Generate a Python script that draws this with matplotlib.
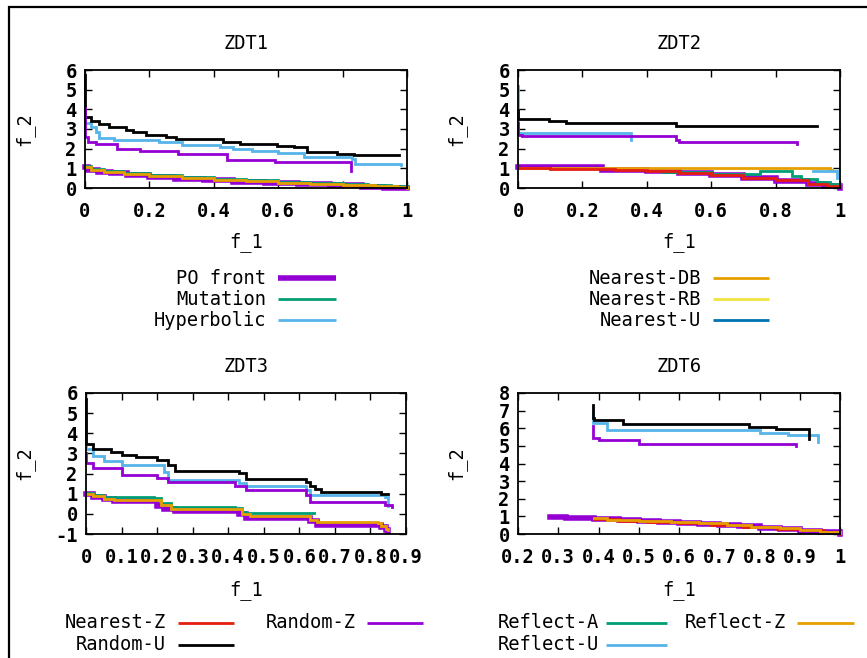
import matplotlib
matplotlib.use("Agg")
import matplotlib.pyplot as plt
from matplotlib.lines import Line2D
from matplotlib.patches import Rectangle

# ---------------- data ----------------
# ZDT1
ZDT1_PO_F1 = [0, 0.01, 0.04, 0.08, 0.13, 0.2, 0.28, 0.37, 0.46, 0.56, 0.66, 0.76, 0.86, 0.93, 1.0]
ZDT1_PO_F2 = [1.05, 0.92, 0.82, 0.74, 0.66, 0.57, 0.48, 0.40, 0.33, 0.26, 0.19, 0.13, 0.07, 0.02, -0.02]
ZDT1_MUT_F1 = [0, 0.02, 0.06, 0.12, 0.2, 0.3, 0.4, 0.5, 0.6, 0.7, 0.8, 0.88, 0.95, 1.0]
ZDT1_MUT_F2 = [1.1, 0.95, 0.87, 0.78, 0.68, 0.58, 0.48, 0.40, 0.32, 0.25, 0.2, 0.15, 0.12, 0.1]
ZDT1_REFZ_F1 = [0, 0.02, 0.06, 0.12, 0.2, 0.3, 0.4, 0.5, 0.6, 0.7, 0.8, 0.9, 0.97, 1.0]
ZDT1_REFZ_F2 = [1.05, 0.9, 0.82, 0.72, 0.62, 0.52, 0.43, 0.35, 0.27, 0.2, 0.13, 0.08, 0.05, 0.02]
ZDT1_RANDU_F1 = [0, 0, 0.019, 0.045, 0.076, 0.128, 0.149, 0.19, 0.253, 0.284, 0.43, 0.482, 0.596, 0.648, 0.69, 0.784, 0.835, 0.976]
ZDT1_RANDU_F2 = [5.75, 3.62, 3.40, 3.25, 3.08, 2.94, 2.84, 2.72, 2.60, 2.47, 2.35, 2.23, 2.14, 2.06, 1.84, 1.75, 1.67, 1.67]
ZDT1_HYP_F1 = [0, 0, 0.02, 0.035, 0.045, 0.09, 0.23, 0.3, 0.42, 0.46, 0.52, 0.6, 0.68, 0.83, 0.84, 0.98]
ZDT1_HYP_F2 = [4.0, 3.28, 3.1, 2.85, 2.52, 2.45, 2.35, 2.2, 2.1, 2.0, 1.9, 1.8, 1.58, 1.45, 1.22, 1.15]
ZDT1_RANDZ_F1 = [0, 0, 0.01, 0.035, 0.1, 0.17, 0.29, 0.44, 0.59, 0.825]
ZDT1_RANDZ_F2 = [4.05, 2.6, 2.35, 2.25, 2.0, 1.89, 1.72, 1.41, 1.30, 0.87]

# ZDT2
ZDT2_PO_F1 = [0, 0.26, 0.3, 0.4, 0.5, 0.6, 0.7, 0.8, 0.9, 0.95, 1.0]
ZDT2_PO_F2 = [1.07, 0.93, 0.91, 0.84, 0.75, 0.64, 0.51, 0.36, 0.19, 0.1, 0.0]
ZDT2_MUT_F1 = [0.45, 0.6, 0.75, 0.85, 0.88, 0.93, 0.97, 1.0]
ZDT2_MUT_F2 = [0.82, 0.7, 0.87, 0.6, 0.45, 0.3, 0.18, 0.1]
ZDT2_NDB_F1 = [0, 0.97, 0.975]
ZDT2_NDB_F2 = [1.02, 0.9, 0.9]
ZDT2_NZ_F1 = [0, 0.1, 0.2, 0.3, 0.4, 0.5, 0.6, 0.7, 0.8, 0.9, 0.96, 1.0]
ZDT2_NZ_F2 = [1.0, 0.99, 0.96, 0.91, 0.85, 0.76, 0.66, 0.53, 0.4, 0.22, 0.1, 0.03]
ZDT2_REFU_F1 = [0.915, 0.99]
ZDT2_REFU_F2 = [0.86, 0.51]
ZDT2_RANDU_F1 = [0, 0, 0.096, 0.148, 0.49, 0.93]
ZDT2_RANDU_F2 = [3.98, 3.52, 3.43, 3.33, 3.17, 3.17]
ZDT2_HYP_F1 = [0, 0, 0.35]
ZDT2_HYP_F2 = [5.18, 2.78, 2.45]
ZDT2_RANDZ_F1 = [0, 0, 0.013, 0.49, 0.50, 0.866]
ZDT2_RANDZ_F2 = [3.3, 2.71, 2.66, 2.44, 2.32, 2.23]

# ZDT3
ZDT3_PO_F1 = [0, 0.02, 0.05, 0.08, 0.18, 0.2, 0.22, 0.25, 0.41, 0.43, 0.45, 0.62, 0.63, 0.65, 0.82, 0.83, 0.845, 0.85]
ZDT3_PO_F2 = [1.0, 0.85, 0.75, 0.65, 0.62, 0.4, 0.25, 0.15, 0.12, 0.0, -0.2, -0.22, -0.35, -0.55, -0.57, -0.65, -0.8, -0.85]
ZDT3_MUT_F1 = [0, 0.02, 0.05, 0.19, 0.21, 0.24, 0.42, 0.44, 0.45, 0.64]
ZDT3_MUT_F2 = [1.05, 0.92, 0.83, 0.8, 0.55, 0.35, 0.3, 0.1, 0.02, 0.02]
ZDT3_REFZ_F1 = [0, 0.02, 0.05, 0.08, 0.19, 0.21, 0.24, 0.42, 0.44, 0.46, 0.62, 0.63, 0.65, 0.82, 0.83, 0.845, 0.85]
ZDT3_REFZ_F2 = [1.0, 0.88, 0.76, 0.7, 0.68, 0.45, 0.25, 0.22, 0.0, -0.1, -0.12, -0.3, -0.42, -0.45, -0.6, -0.75, -0.78]
ZDT3_RANDU_F1 = [0, 0, 0.02, 0.07, 0.1, 0.14, 0.2, 0.23, 0.25, 0.43, 0.45, 0.62, 0.63, 0.645, 0.66, 0.83, 0.85]
ZDT3_RANDU_F2 = [5.7, 3.45, 3.2, 3.05, 2.93, 2.82, 2.68, 2.43, 2.15, 2.02, 1.74, 1.57, 1.4, 1.25, 1.1, 1.0, 1.0]
ZDT3_HYP_F1 = [0, 0, 0.02, 0.05, 0.1, 0.22, 0.23, 0.43, 0.45, 0.62, 0.63, 0.84, 0.85]
ZDT3_HYP_F2 = [4.92, 3.2, 2.85, 2.6, 2.43, 2.1, 1.69, 1.52, 1.39, 1.19, 0.94, 0.86, 0.4]
ZDT3_RANDZ_F1 = [0, 0, 0.02, 0.1, 0.2, 0.23, 0.42, 0.45, 0.62, 0.63, 0.84, 0.86]
ZDT3_RANDZ_F2 = [3.0, 2.52, 2.27, 1.94, 1.77, 1.56, 1.39, 1.16, 0.94, 0.61, 0.44, 0.36]

# ZDT6
ZDT6_PO_F1 = [0.28, 0.32, 0.39, 0.45, 0.5, 0.55, 0.6, 0.65, 0.7, 0.75, 0.8, 0.85, 0.9, 0.95, 1.0]
ZDT6_PO_F2 = [0.99, 0.9, 0.85, 0.8, 0.75, 0.7, 0.64, 0.58, 0.51, 0.44, 0.36, 0.28, 0.19, 0.1, 0.0]
ZDT6_NZ_F1 = [0.39, 0.45, 0.52, 0.6, 0.68, 0.76, 0.84, 0.9, 0.96, 1.0]
ZDT6_NZ_F2 = [0.85, 0.76, 0.7, 0.62, 0.52, 0.42, 0.3, 0.2, 0.1, 0.02]
ZDT6_REFZ_F1 = [0.39, 0.42, 0.5, 0.58, 0.65, 0.72, 0.78, 0.85, 0.9, 0.95, 1.0]
ZDT6_REFZ_F2 = [0.88, 0.82, 0.76, 0.68, 0.6, 0.5, 0.42, 0.32, 0.22, 0.12, 0.05]
ZDT6_RANDU_F1 = [0.387, 0.387, 0.39, 0.46, 0.775, 0.84, 0.924]
ZDT6_RANDU_F2 = [7.33, 6.6, 6.49, 6.24, 6.09, 5.96, 5.39]
ZDT6_HYP_F1 = [0.387, 0.387, 0.422, 0.8, 0.87, 0.945]
ZDT6_HYP_F2 = [6.9, 6.28, 5.9, 5.73, 5.61, 5.2]
ZDT6_RANDZ_F1 = [0.387, 0.387, 0.4, 0.5, 0.89]
ZDT6_RANDZ_F2 = [6.15, 5.44, 5.33, 5.1, 4.97]

TITLES = ["ZDT1", "ZDT2", "ZDT3", "ZDT6"]
XTICKS_01 = [0, 0.2, 0.4, 0.6, 0.8, 1.0]
XTICKLABELS_01 = ["0", "0.2", "0.4", "0.6", "0.8", "1"]
XTICKS_ZDT3 = [0, 0.1, 0.2, 0.3, 0.4, 0.5, 0.6, 0.7, 0.8, 0.9]
XTICKLABELS_ZDT3 = ["0", "0.1", "0.2", "0.3", "0.4", "0.5", "0.6", "0.7", "0.8", "0.9"]
XTICKS_ZDT6 = [0.2, 0.3, 0.4, 0.5, 0.6, 0.7, 0.8, 0.9, 1.0]
XTICKLABELS_ZDT6 = ["0.2", "0.3", "0.4", "0.5", "0.6", "0.7", "0.8", "0.9", "1"]

SERIES_NAMES = ["PO front", "Mutation", "Hyperbolic", "Nearest-DB", "Nearest-RB", "Nearest-U",
                "Nearest-Z", "Random-U", "Random-Z", "Reflect-A", "Reflect-U", "Reflect-Z"]

# ---------------- styles ----------------
PURPLE = "#9400D3"; GREEN = "#009E73"; LBLUE = "#56B4E9"; ORANGE = "#E69F00"
YELLOW = "#F0E442"; BLUE = "#0072B2"; RED = "#E51E10"; BLACK = "#000000"
COLORS = {"PO front": PURPLE, "Mutation": GREEN, "Hyperbolic": LBLUE, "Nearest-DB": ORANGE,
          "Nearest-RB": YELLOW, "Nearest-U": BLUE, "Nearest-Z": RED, "Random-U": BLACK,
          "Random-Z": PURPLE, "Reflect-A": GREEN, "Reflect-U": LBLUE, "Reflect-Z": ORANGE}
WIDTHS = {k: (4.0 if k == "PO front" else 2.0) for k in SERIES_NAMES}

FONT = ["DejaVu Sans Mono"]
FS = 13.5
plt.rcParams["font.family"] = FONT

W, H = 867, 658
fig = plt.figure(figsize=(W / 100, H / 100), dpi=100)

panels = [
    dict(box=(85, 70, 407, 188), xlim=(0, 1), ylim=(0, 6), xt=XTICKS_01, xtl=XTICKLABELS_01,
         yt=list(range(0, 7)),
         series={"PO front": (ZDT1_PO_F1, ZDT1_PO_F2), "Mutation": (ZDT1_MUT_F1, ZDT1_MUT_F2),
                 "Hyperbolic": (ZDT1_HYP_F1, ZDT1_HYP_F2), "Random-U": (ZDT1_RANDU_F1, ZDT1_RANDU_F2),
                 "Random-Z": (ZDT1_RANDZ_F1, ZDT1_RANDZ_F2), "Reflect-Z": (ZDT1_REFZ_F1, ZDT1_REFZ_F2)}),
    dict(box=(518, 70, 840, 188), xlim=(0, 1), ylim=(0, 6), xt=XTICKS_01, xtl=XTICKLABELS_01,
         yt=list(range(0, 7)),
         series={"PO front": (ZDT2_PO_F1, ZDT2_PO_F2), "Mutation": (ZDT2_MUT_F1, ZDT2_MUT_F2),
                 "Hyperbolic": (ZDT2_HYP_F1, ZDT2_HYP_F2), "Nearest-DB": (ZDT2_NDB_F1, ZDT2_NDB_F2),
                 "Nearest-Z": (ZDT2_NZ_F1, ZDT2_NZ_F2), "Random-U": (ZDT2_RANDU_F1, ZDT2_RANDU_F2),
                 "Random-Z": (ZDT2_RANDZ_F1, ZDT2_RANDZ_F2), "Reflect-U": (ZDT2_REFU_F1, ZDT2_REFU_F2)}),
    dict(box=(86, 393, 406, 534), xlim=(0, 0.9), ylim=(-1, 6), xt=XTICKS_ZDT3, xtl=XTICKLABELS_ZDT3,
         yt=list(range(-1, 7)),
         series={"PO front": (ZDT3_PO_F1, ZDT3_PO_F2), "Mutation": (ZDT3_MUT_F1, ZDT3_MUT_F2),
                 "Hyperbolic": (ZDT3_HYP_F1, ZDT3_HYP_F2), "Random-U": (ZDT3_RANDU_F1, ZDT3_RANDU_F2),
                 "Random-Z": (ZDT3_RANDZ_F1, ZDT3_RANDZ_F2), "Reflect-Z": (ZDT3_REFZ_F1, ZDT3_REFZ_F2)}),
    dict(box=(518, 393, 840, 534), xlim=(0.2, 1.0), ylim=(0, 8), xt=XTICKS_ZDT6, xtl=XTICKLABELS_ZDT6,
         yt=list(range(0, 9)),
         series={"PO front": (ZDT6_PO_F1, ZDT6_PO_F2), "Hyperbolic": (ZDT6_HYP_F1, ZDT6_HYP_F2),
                 "Nearest-Z": (ZDT6_NZ_F1, ZDT6_NZ_F2), "Random-U": (ZDT6_RANDU_F1, ZDT6_RANDU_F2),
                 "Random-Z": (ZDT6_RANDZ_F1, ZDT6_RANDZ_F2), "Reflect-Z": (ZDT6_REFZ_F1, ZDT6_REFZ_F2)}),
]

for title, p in zip(TITLES, panels):
    l, t, r, b = p["box"]
    ax = fig.add_axes([l / W, 1 - b / H, (r - l) / W, (b - t) / H])
    for name in SERIES_NAMES:
        if name in p["series"]:
            x, y = p["series"][name]
            ax.plot(x, y, drawstyle="steps-post", color=COLORS[name], lw=WIDTHS[name],
                    clip_on=False, solid_joinstyle="miter")
    ax.set_xlim(*p["xlim"])
    ax.set_ylim(*p["ylim"])
    ax.set_xticks(p["xt"])
    ax.set_xticklabels(p["xtl"], fontweight="bold")
    ax.set_yticks(p["yt"])
    ax.set_yticklabels([str(v) for v in p["yt"]], fontweight="bold")
    ax.tick_params(direction="in", top=True, right=True, length=5, width=1.0,
                   labelsize=FS, pad=10, colors="black")
    ax.tick_params(axis="y", pad=6)
    for s in ax.spines.values():
        s.set_linewidth(1.3)
    ax.set_title(title, fontsize=FS, pad=15)
    ax.set_xlabel("f_1", fontsize=FS)
    ax.set_ylabel("f_2", fontsize=FS)
    hpx = b - t
    wpx = r - l
    top_lbl = 232 if t < 300 else 580
    ax.xaxis.set_label_coords(0.5, -(top_lbl - b) / hpx)
    ax.yaxis.set_label_coords(-(l - (34 if l < 300 else 466)) / wpx, 0.5)

# legends (drawn as figure annotations)
def entry(text, text_right, x0, x1, ypx, color, lw):
    fig.text(text_right / W, 1 - ypx / H, text, ha="right", va="center", fontsize=FS)
    fig.add_artist(Line2D([x0 / W, x1 / W], [1 - ypx / H] * 2, transform=fig.transFigure,
                          color=color, lw=lw, solid_capstyle="butt"))

LEG_TOP_ROWS = [278, 299, 320]
for name, y in zip(SERIES_NAMES[0:3], LEG_TOP_ROWS):
    entry(name, 266, 278, 336, y, COLORS[name], 4.0 if name == "PO front" else 2.0)
for name, y in zip(SERIES_NAMES[3:6], LEG_TOP_ROWS):
    entry(name, 701, 713, 769, y, COLORS[name], 2.0)

entry(SERIES_NAMES[6], 166, 178, 234, 623, COLORS[SERIES_NAMES[6]], 2.0)
entry(SERIES_NAMES[7], 166, 178, 234, 645, COLORS[SERIES_NAMES[7]], 2.0)
entry(SERIES_NAMES[8], 356, 367, 423, 623, COLORS[SERIES_NAMES[8]], 2.0)
entry(SERIES_NAMES[9], 599, 606, 667, 623, COLORS[SERIES_NAMES[9]], 2.0)
entry(SERIES_NAMES[10], 599, 606, 667, 645, COLORS[SERIES_NAMES[10]], 2.0)
entry(SERIES_NAMES[11], 786, 797, 854, 623, COLORS[SERIES_NAMES[11]], 2.0)

# outer frame (partially off-canvas, as in the reference)
fig.add_artist(Rectangle((9 / W, -0.1), 1.2, 1 - 7 / H + 0.1, transform=fig.transFigure,
                         fill=False, lw=1.6, edgecolor="black"))

fig.savefig("out.png", dpi=100)
